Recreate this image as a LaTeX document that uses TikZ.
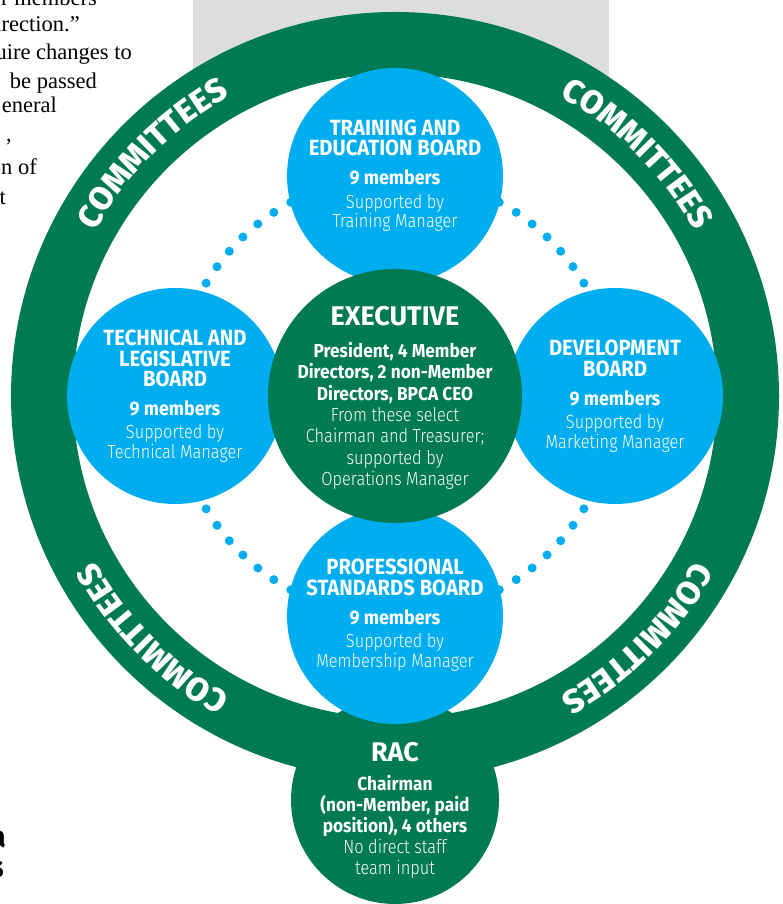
\documentclass[tikz,border=0pt]{standalone}
\usepackage{fontspec}
\usepackage{tikz}
\usepackage{xcolor}
\usetikzlibrary{decorations.text}

\setmainfont{Fira Sans}
\newfontfamily\headfont{Fira Sans}[FakeStretch=0.92]
\newfontfamily\thinfont{Fira Sans Light}[FakeStretch=0.86]
\newfontfamily\ringface{Fira Sans ExtraBold}
\newfontfamily\titleface{Fira Sans}
\newfontfamily\columnfont{Liberation Serif}

\definecolor{bpcagreen}{HTML}{007A53}
\definecolor{bpcablue}{HTML}{00AEEF}
\definecolor{pagegray}{HTML}{DCDDDF}

% line fonts for the circles
\newcommand{\bhead}{\headfont\bfseries\fontsize{22}{21}\selectfont}
\newcommand{\bbold}{\headfont\bfseries\fontsize{19.5}{20}\selectfont}
\newcommand{\ebold}{\headfont\bfseries\fontsize{18.8}{20}\selectfont}
\newcommand{\blight}{\thinfont\fontsize{19}{20}\selectfont}
\newcommand{\btitle}{\titleface\bfseries\fontsize{27}{27}\selectfont}
\newcommand{\ringfont}{\ringface\fontsize{33}{33}\selectfont}

\begin{document}
\begin{tikzpicture}[x=1pt, y=1pt, node distance=220pt,
    board/.style={circle, fill=bpcablue, minimum size=216pt, inner sep=0pt},
    council/.style={circle, fill=bpcagreen, inner sep=0pt},
    boardtext/.style={text=white, align=center, inner sep=0pt, font=\fontsize{19}{20}\selectfont},
    ring/.style={draw=bpcagreen, line width=62pt, fill=white},
    dotted ring/.style={draw=bpcablue, line width=9pt, line cap=round, dash pattern=on 0pt off 19.75pt},
    ring label/.style={decorate, decoration={text along path, text align=center, text color=white, text={|\ringfont|COMMITTEES}}},
    column/.style={anchor=base east, inner sep=0pt, font=\columnfont\fontsize{22.5}{27}\selectfont}]
        \useasboundingbox (0,0) rectangle (783,904);
        \fill [pagegray] (193,774) rectangle (609,904);
        
        \coordinate (hub) at (395,508);
        \draw [ring] (hub) circle (353);
        
        \node (rac) [council, minimum size=208pt, below of=hub, node distance=404pt] {};
        \draw [dotted ring] (hub) circle (220);
        
        \node (training) [board, above of=hub] {};
        \node (technical) [board, left of=hub] {};
        \node (development) [board, right of=hub] {};
        \node (standards) [board, below of=hub] {};
        \node (executive) [council, minimum size=254pt] at (hub) {};
        
        \node (trainingtext) [boardtext] at (training) {{\bhead TRAINING AND}\\[-0.5pt]{\bhead EDUCATION BOARD}\\[9pt]{\bbold 9 members}\\[4pt]{\blight Supported by}\\[-0.5pt]{\blight Training Manager}};
        \node (technicaltext) [boardtext] at (technical) {{\bhead TECHNICAL AND}\\[0.5pt]{\bhead LEGISLATIVE}\\[0.5pt]{\bhead BOARD}\\[9pt]{\bbold 9 members}\\[3pt]{\blight Supported by}\\[-0.5pt]{\blight Technical Manager}};
        \node (developmenttext) [boardtext] at (development) {{\bhead DEVELOPMENT}\\[0.5pt]{\bhead BOARD}\\[9pt]{\bbold 9 members}\\[3pt]{\blight Supported by}\\[0pt]{\blight Marketing Manager}};
        \node (standardstext) [boardtext, yshift=1pt] at (standards) {{\bhead PROFESSIONAL}\\[0.5pt]{\bhead STANDARDS BOARD}\\[9pt]{\bbold 9 members}\\[3pt]{\blight Supported by}\\[0pt]{\blight Membership Manager}};
        \node (executivetext) [boardtext, font=\fontsize{19}{21.4}\selectfont, yshift=-2pt] at (executive) {{\btitle EXECUTIVE}\\[10.5pt]{\ebold President, 4 Member}\\{\ebold Directors, 2 non-Member}\\{\ebold Directors, BPCA CEO}\\{\blight From these select}\\{\blight Chairman and Treasurer;}\\{\blight supported by}\\{\blight Operations Manager}};
        \node (ractext) [boardtext, font=\fontsize{19}{21}\selectfont, yshift=-10pt] at (rac) {{\btitle RAC}\\[8pt]{\ebold Chairman}\\{\ebold (non-Member, paid}\\{\ebold position), 4 others}\\{\blight No direct staff}\\{\blight team input}};
        
        % lettering round the ring, always read clockwise
        \path [ring label] (hub) ++(175:342) arc [start angle=175, end angle=95, radius=342];
        \path [ring label] (hub) ++(85:342) arc [start angle=85, end angle=5, radius=342];
        \path [ring label] (hub) ++(355:342) arc [start angle=355, end angle=275, radius=342];
        \path [ring label] (hub) ++(265:342) arc [start angle=265, end angle=185, radius=342];
        
        % article column cut by the page edge
        \node (col1) [column] at (97,898) {r members};
        \node (col2) [column] at (80,872) {irection.”};
        \node (col3) [column] at (132,844) {uire changes to};
        \node (col4) [column] at (97,815) {be passed};
        \node (col5) [column] at (57,791) {eneral};
        \node (col6) [column] at (12,762) {,};
        \node (col7) [column] at (37,729) {on of};
        \node (col8) [column] at (6,699) {t};
        \node (foot1) [column, font=\headfont\bfseries\fontsize{30}{30}\selectfont] at (6,56) {a};
        \node (foot2) [column, font=\headfont\bfseries\fontsize{30}{30}\selectfont] at (4,27) {s};
    \end{tikzpicture}
\end{document}
